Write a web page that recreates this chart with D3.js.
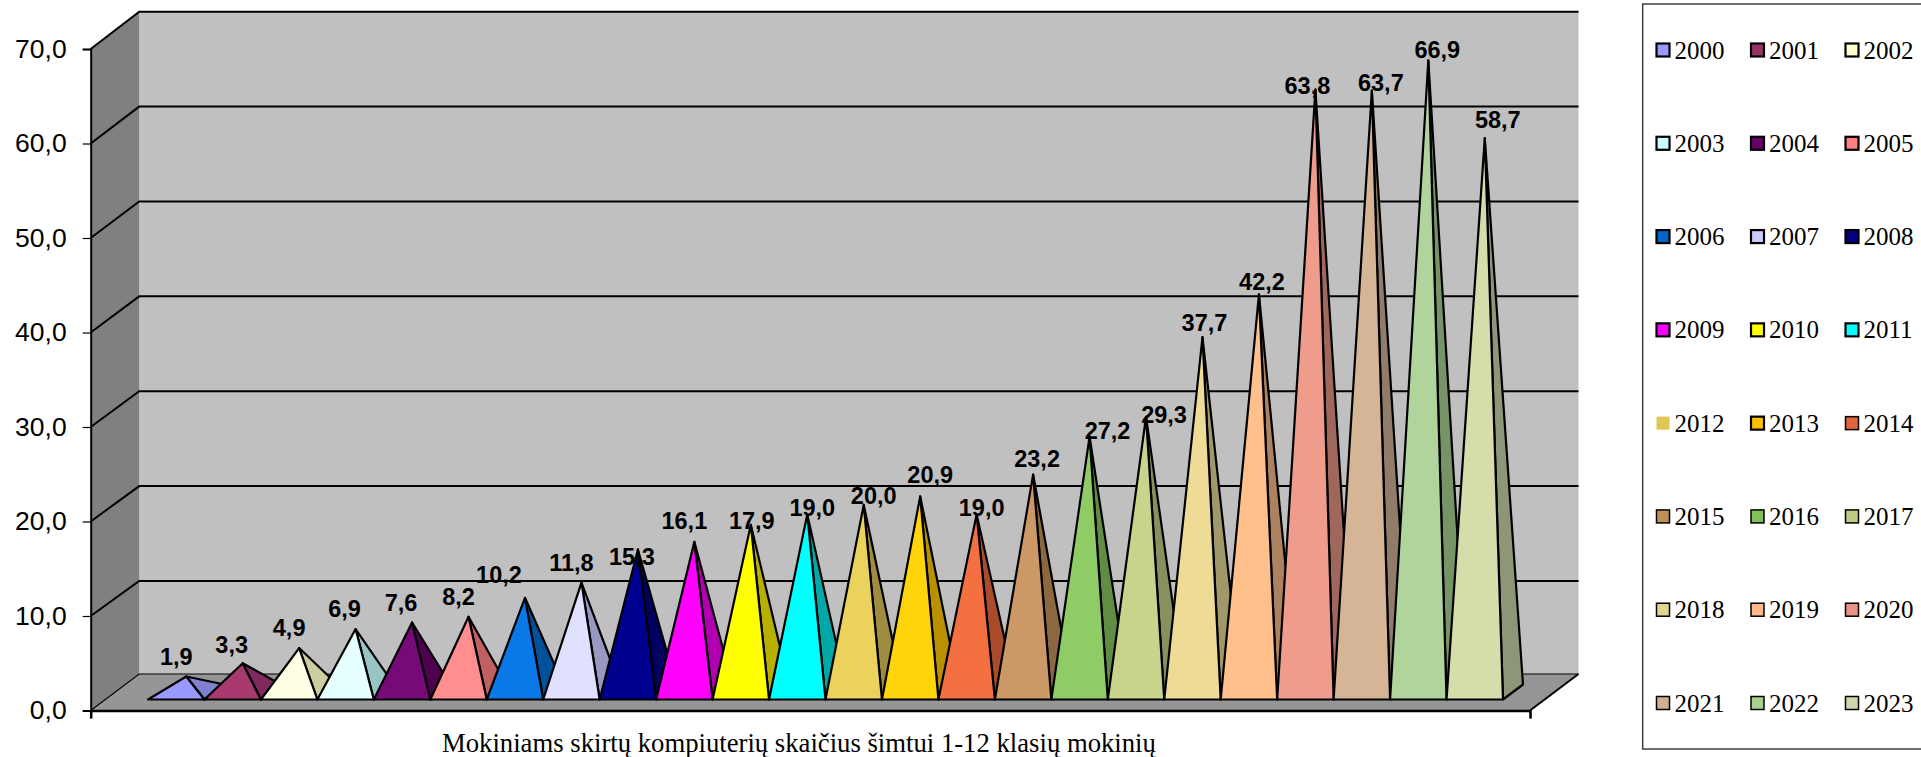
<!DOCTYPE html>
<html>
<head>
<meta charset="utf-8">
<script src="https://d3js.org/d3.v7.min.js"></script>
<style>
    body { margin: 0; background: #fff; overflow: hidden; }
    svg { display: block; }
    .tick text { font-family: "Liberation Sans", Arial, sans-serif; font-size: 26.5px; fill: #000; }
    .valueLabel { font-family: "Liberation Sans", Arial, sans-serif; font-size: 23.5px; font-weight: bold; text-anchor: middle; }
    .serif { font-family: "Liberation Serif", "Times New Roman", serif; font-size: 25px; }
    .title { font-size: 26.7px; }
</style>
</head>
<body>
<div id="chart"></div>
<script>
// values
var years = ["2000","2001","2002","2003","2004","2005","2006","2007","2008","2009","2010","2011",
    "2012","2013","2014","2015","2016","2017","2018","2019","2020","2021","2022","2023"];
var values = [1.9,3.3,4.9,6.9,7.6,8.2,10.2,11.8,15.3,16.1,17.9,19.0,
    20.0,20.9,19.0,23.2,27.2,29.3,37.7,42.2,63.8,63.7,66.9,58.7];
var yTicks = [0,10,20,30,40,50,60,70];

var faceColors = ["#9999FF","#A83A70","#FFFFE6","#E6FFFF","#780A78","#FF8F8F","#0A78E6","#E0E0FF",
    "#000090","#FF00FF","#FFFF00","#00FFFF","#EBD25C","#FFD40A","#F57040","#CC9966",
    "#90CC66","#C8D48C","#EEDC96","#FFC08C","#F09C8C","#D6B496","#B0D49C","#D6DCAA"];
var sideColors = ["#8080D0","#802860","#CDCDA0","#99C4C4","#4F004F","#C06060","#00509A","#9898C0",
    "#000060","#B000B0","#B8B000","#00A8A8","#A08C40","#B89000","#A84C2C","#8C6840",
    "#608C44","#88905E","#A09868","#AC8260","#A0685C","#907C68","#779467","#8E9678"];
var legendColors = ["#9999FF","#993366","#FFFFCC","#CCFFFF","#660066","#FF8080","#0066CC","#CCCCFF",
    "#000080","#FF00FF","#FFFF00","#00FFFF","#DEC853","#FFC000","#E0653A","#BF9055",
    "#80BF5A","#BFC982","#E2D592","#FFB98A","#E89385","#CFB090","#A8D18F","#D0D9AC"];

// the labels were dragged by hand in the original, so each has its own nudge from the apex
var labelDx = [-10,-11,-10,-11,-11,-10,-26,-10,-6,-10,1,5,10,10,5,4,18,18,2,3,-8,9,9,13];
var labelDy = [-11,-10,-12,-12,-11,-12,-15,-12,16,-13,4,2,-1,-13,2,-8,2,6,-6,-4,4,0,-2,-10];

var svgWidth = 1921;
var svgHeight = 757;

var depthX = 48.5;
var frontLeft = 90.7;
var frontRight = 1530;
var baseFront = 699.5;    // front edge of the pyramid bases
var baseDepthX = 20;
var baseDepthY = 15;

var svg = d3.select("#chart").append("svg")
    .attr("width", svgWidth)
    .attr("height", svgHeight);

var xScale = d3.scaleBand().domain(years).range([148, 1503]);
var yScale = d3.scaleLinear().domain([0, 70]).range([710.5, 49]);
// back wall gridlines do not sit at quite the same spacing as the front ticks
var backScale = d3.scaleLinear().domain([0, 10, 70]).range([674, 581, 11.7]);
// pyramids stand in the middle of the floor
var peakScale = d3.scaleLinear().domain([0, 70]).range([694.5, 30.9]);
var line = d3.line();

function apex(i) {
    return [xScale(years[i]) + xScale.bandwidth() / 2 + baseDepthX / 2, peakScale(values[i])];
}

// walls and floor
var walls = svg.append("g");
walls.append("path")
    .attr("d", line([[frontLeft + depthX, backScale(70)], [frontRight + depthX, backScale(70)],
        [frontRight + depthX, backScale(0)], [frontLeft + depthX, backScale(0)]]) + "Z")
    .attr("fill", "#C0C0C0");
walls.append("path")
    .attr("d", line([[frontLeft, yScale(70)], [frontLeft + depthX, backScale(70)],
        [frontLeft + depthX, backScale(0)], [frontLeft, yScale(0)]]) + "Z")
    .attr("fill", "#808080");
walls.append("path")
    .attr("d", line([[frontLeft, yScale(0)], [frontLeft + depthX, backScale(0)],
        [frontRight + depthX, backScale(0)], [frontRight, yScale(0)]]) + "Z")
    .attr("fill", "#969696");

// gridlines run along the side wall and then the back wall
walls.selectAll(".grid")
    .data(yTicks)
    .enter()
    .append("path")
    .attr("class", "grid")
    .attr("d", function(d) {
        return line([[frontLeft, yScale(d)], [frontLeft + depthX, backScale(d)],
            [frontRight + depthX, backScale(d)]]);
    })
    .attr("fill", "none")
    .attr("stroke", "#000")
    .attr("stroke-width", function(d) { return d === 0 ? 1.2 : 2; });

walls.append("path")
    .attr("d", line([[frontRight, yScale(0)], [frontRight + depthX, backScale(0)]]))
    .attr("stroke", "#000")
    .attr("stroke-width", 2);

// axes
var yAxis = d3.axisLeft(yScale)
    .tickValues(yTicks)
    .tickSize(8)
    .tickPadding(16)
    .tickFormat(function(d) { return d3.format(".1f")(d).replace(".", ","); });

var yAxisG = svg.append("g")
    .attr("transform", "translate(" + frontLeft + ",0)")
    .call(yAxis);
yAxisG.select(".domain").attr("stroke", "#000").attr("stroke-width", 2);
yAxisG.selectAll(".tick line").attr("stroke", "#000").attr("stroke-width", 1.2);

var xAxisScale = d3.scaleLinear().domain([0, 1]).range([frontLeft, frontRight]);
var xAxisG = svg.append("g")
    .attr("transform", "translate(0," + yScale(0) + ")")
    .call(d3.axisBottom(xAxisScale).tickValues([0, 1]).tickSize(8).tickFormat(""));
xAxisG.select(".domain").attr("stroke", "#000").attr("stroke-width", 2.5);
xAxisG.selectAll(".tick line").attr("stroke", "#000").attr("stroke-width", 1.2);

// pyramids, left to right so that each one covers the side of the one before
var pyramids = svg.append("g")
    .selectAll("g")
    .data(years)
    .enter()
    .append("g")
    .attr("stroke", "#000")
    .attr("stroke-width", 2.2)
    .attr("stroke-linejoin", "round");

pyramids.append("path")
    .attr("fill", function(d, i) { return sideColors[i]; })
    .attr("d", function(d, i) {
        var x1 = xScale(d) + xScale.bandwidth();
        return line([[x1, baseFront], [x1 + baseDepthX, baseFront - baseDepthY], apex(i)]) + "Z";
    });

pyramids.append("path")
    .attr("fill", function(d, i) { return faceColors[i]; })
    .attr("d", function(d, i) {
        var x0 = xScale(d);
        return line([[x0, baseFront], [x0 + xScale.bandwidth(), baseFront], apex(i)]) + "Z";
    });

// value labels
svg.append("g")
    .selectAll("text")
    .data(values)
    .enter()
    .append("text")
    .attr("class", "valueLabel")
    .attr("x", function(d, i) { return apex(i)[0] + labelDx[i]; })
    .attr("y", function(d, i) { return apex(i)[1] + labelDy[i]; })
    .text(function(d) { return d3.format(".1f")(d).replace(".", ","); });

// x title
svg.append("text")
    .attr("class", "serif title")
    .attr("x", 442)
    .attr("y", 752)
    .text("Mokiniams skirtų kompiuterių skaičius šimtui 1-12 klasių mokinių");

// legend runs off the right side of the picture
svg.append("rect")
    .attr("x", 1642.7)
    .attr("y", 4)
    .attr("width", 300)
    .attr("height", 745)
    .attr("fill", "#fff")
    .attr("stroke", "#404040")
    .attr("stroke-width", 1.5);

var legendCols = d3.scalePoint().domain([0, 1, 2]).range([1656, 1845]);
var legendRows = d3.scalePoint().domain(d3.range(8)).range([50, 703]);

var legendItems = svg.append("g")
    .selectAll("g")
    .data(years)
    .enter()
    .append("g")
    .attr("transform", function(d, i) {
        return "translate(" + legendCols(i % 3) + "," + legendRows(Math.floor(i / 3)) + ")";
    });

// swatch borders differ: 2012 has none, the later years a thinner one
legendItems.append("rect")
    .attr("x", 0.5)
    .attr("y", -6.5)
    .attr("width", 13)
    .attr("height", 13)
    .attr("fill", function(d, i) { return legendColors[i]; })
    .attr("stroke", function(d) { return d === "2012" ? "none" : "#000"; })
    .attr("stroke-width", function(d) { return +d > 2013 ? 1.5 : 2.2; });

legendItems.append("text")
    .attr("class", "serif")
    .attr("x", 18.5)
    .attr("y", 8.5)
    .text(function(d) { return d; });
</script>
</body>
</html>
